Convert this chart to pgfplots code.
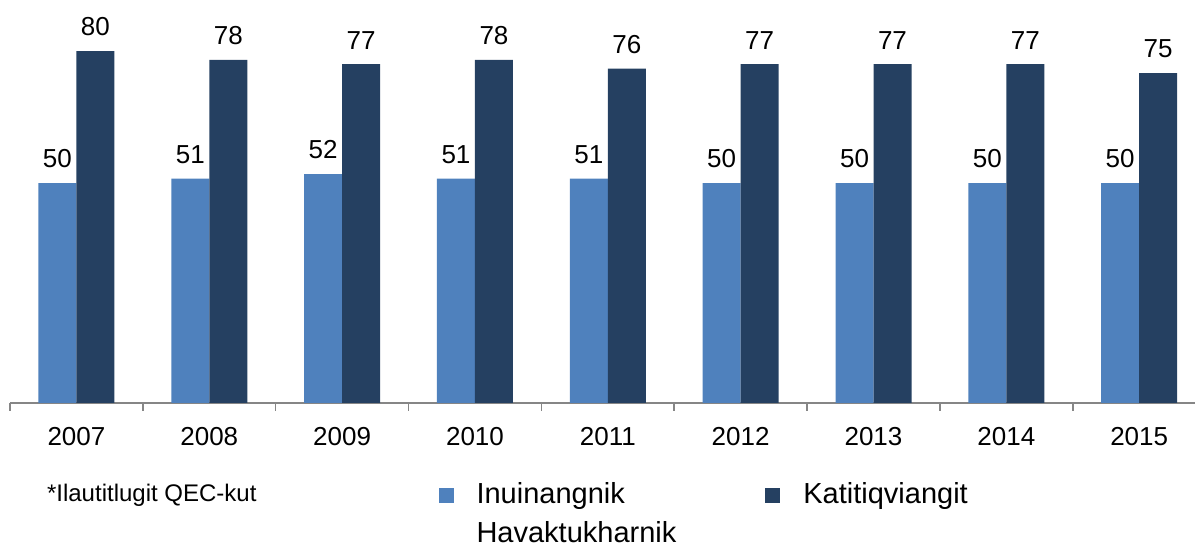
\documentclass[border=0pt]{standalone}
\usepackage{pgfplots}
\pgfplotsset{compat=1.18}
\usepackage{fontspec}
\setmainfont{Liberation Sans}
\definecolor{lightbar}{HTML}{4F81BD}
\definecolor{darkbar}{HTML}{254061}
\definecolor{axgray}{HTML}{868686}

\begin{document}
\begin{tikzpicture}
\begin{axis}[
    width=592.5pt, height=201.5pt, scale only axis,
    xmin=-0.5, xmax=8.42, ymin=0, ymax=91.6,
    ybar=0pt, bar width=0.286,
    axis y line=none,
    axis x line*=bottom,
    x axis line style={axgray, line width=0.75pt},
    xtick={0,...,8},
    xticklabels={2007,2008,2009,2010,2011,2012,2013,2014,2015},
    major x tick style={draw=none},
    minor xtick={-0.5,0.5,...,7.5},
    minor tick length=4pt, tick align=outside,
    minor x tick style={axgray, line width=0.75pt},
    xticklabel style={font=\fontsize{13}{15}\selectfont, yshift=-4.5pt},
    nodes near coords,
    nodes near coords style={font=\fontsize{13}{15}\selectfont, yshift=4pt},
    /pgf/number format/assume math mode=true,
    legend style={at={(rel axis cs:0.3613,-0.179)}, anchor=north west,
        draw=none, fill=none, inner sep=0pt,
        font=\fontsize{14.5}{17.4}\selectfont,
        cells={anchor=base west},
        /tikz/every odd column/.append style={column sep=9.5pt},
        /tikz/every even column/.append style={column sep=42.5pt}},
    legend columns=2,
]
\addplot[fill=lightbar, draw=none, bar shift=-0.143,
    legend image code/.code={\fill[lightbar] (0pt,0.5pt) rectangle (7.5pt,8pt);}]
    coordinates {(0,50) (1,51) (2,52) (3,51) (4,51) (5,50) (6,50) (7,50) (8,50)};
\addlegendentry{\begin{tabular}[t]{@{}l@{}}Inuinangnik\\[2pt]Havaktukharnik\end{tabular}}
\addplot[fill=darkbar, draw=none, bar shift=0.143,
    legend image code/.code={\fill[darkbar] (0pt,0.5pt) rectangle (7.5pt,8pt);}]
    coordinates {(0,80) (1,78) (2,77) (3,78) (4,76) (5,77) (6,77) (7,77) (8,75)};
\addlegendentry{Katitiqviangit}
\end{axis}
\node[anchor=base west, font=\fontsize{12}{14}\selectfont] at (15pt,-49.5pt) {*Ilautitlugit QEC-kut};
\pgfresetboundingbox
\path[use as bounding box] (-5pt,-71.5pt) rectangle (592.5pt,201.5pt);
\end{tikzpicture}
\end{document}
